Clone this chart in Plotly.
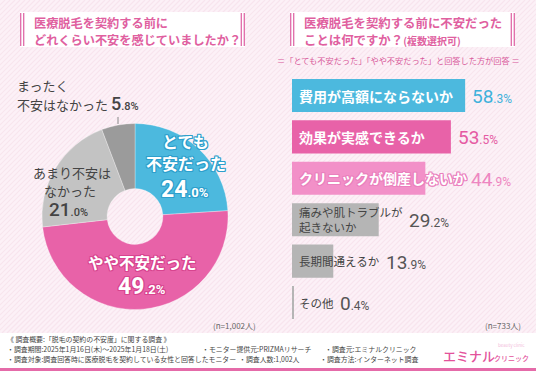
import plotly.graph_objects as go

W, H = 536, 371
JP = "Noto Sans CJK JP"
NUM = "Roboto"

# ---------------- data ----------------
pie_labels = ["とても不安だった", "やや不安だった", "あまり不安はなかった", "まったく不安はなかった"]
pie_values = [24.0, 49.2, 21.0, 5.8]
pie_colors = ["#4cb9de", "#e862a8", "#c3c3c3", "#9b9b9b"]

bar_labels = ["費用が高額にならないか", "効果が実感できるか", "クリニックが倒産しないか",
              "痛みや肌トラブルが<br>起きないか", "長期間通えるか", "その他"]
bar_values = [58.3, 53.5, 44.9, 29.2, 13.9, 0.4]
bar_colors = ["#4cb9de", "#e862a8", "#f290c8", "#b5b5b5", "#b5b5b5", "#b5b5b5"]
value_colors = ["#3fb1db", "#e55aa3", "#ee86c1", "#555555", "#555555", "#555555"]

left_title = ["医療脱毛を契約する前に", "どれくらい不安を感じていましたか？"]
right_title = ["医療脱毛を契約する前に不安だった", "ことは何ですか？"]
right_title_note = "(複数選択可)"
right_subtitle = "＝「とても不安だった」「やや不安だった」と回答した方が回答 ＝"
n_left = "(n=1,002人)"
n_right = "(n=733人)"
footer = [
    "《 調査概要:「脱毛の契約の不安度」に関する調査 》",
    "・調査期間:2025年1月16日(木)～2025年1月18日(土)",
    "・モニター提供元:PRIZMAリサーチ",
    "・調査元:エミナルクリニック",
    "・調査対象:調査回答時に医療脱毛を契約している女性と回答したモニター",
    "・調査人数:1,002人",
    "・調査方法:インターネット調査",
]

PINK = "#e0609f"


def px(x):
    return x / W


def py(y):
    return 1 - y / H


def fmt(v, big, small):
    s = f"{v:.1f}"
    i, d = s.split(".")
    return (f"<span style='font-size:{big}px'>{i}</span>"
            f"<span style='font-size:{small}px'>.{d}%</span>")


def outline(c):
    return (f"-1px -1px 0 {c}, 1px -1px 0 {c}, -1px 1px 0 {c}, 1px 1px 0 {c}, "
            f"0 1px 0 {c}, 0 -1px 0 {c}, 1px 0 0 {c}, -1px 0 0 {c}")


annotations = []
shapes = []


def ann(x, y, text, size, color, xanchor="left", weight=400, family=JP, shadow=None, yanchor="middle"):
    f = dict(family=family, size=size, color=color, weight=weight)
    if shadow:
        f["shadow"] = shadow
    annotations.append(dict(x=px(x), y=py(y), xref="paper", yref="paper", text=text,
                            showarrow=False, xanchor=xanchor, yanchor=yanchor, font=f,
                            align="left"))


# ---------------- background ----------------
stripe = []
for c in range(0, W + 340, 5):
    stripe.append(f"M{px(c):.5f},{py(0):.5f} L{px(c - 333):.5f},{py(333):.5f}")
shapes.append(dict(type="path", xref="paper", yref="paper", path=" ".join(stripe),
                   line=dict(color="#f8e4ee", width=1.2), layer="below"))
shapes.append(dict(type="rect", xref="paper", yref="paper", x0=0, x1=1, y0=py(371), y1=py(333),
                   fillcolor="white", line=dict(width=0), layer="below"))
shapes.append(dict(type="rect", xref="paper", yref="paper", x0=0, x1=1, y0=py(371), y1=py(368),
                   fillcolor="#e56ba9", line=dict(width=0), layer="below"))

# title boxes
for x0, x1 in [(20, 245), (290, 515)]:
    shapes.append(dict(type="rect", xref="paper", yref="paper", x0=px(x0), x1=px(x1),
                       y0=py(47), y1=py(12), fillcolor="white", line=dict(width=0), layer="below"))
    for xl in [x0 + 0.7, x0 + 3.7, x1 - 3.7, x1 - 0.7]:
        shapes.append(dict(type="line", xref="paper", yref="paper", x0=px(xl), x1=px(xl),
                           y0=py(46), y1=py(13), line=dict(color="#e06aa8", width=1.3)))

TS = 12.2
ann(32, 23.5, left_title[0], TS, PINK, weight=700)
ann(32, 39.5, left_title[1], TS, PINK, weight=700)
ann(302, 23.5, right_title[0], 12.4, PINK, weight=700)
ann(302, 39.5, right_title[1] + f"<span style='font-size:10px'>{right_title_note}</span>",
    12.4, PINK, weight=700)
ann(398, 60, right_subtitle, 8.2, "#d8589a", xanchor="center")

# ---------------- pie ----------------
pie = go.Pie(values=pie_values, labels=pie_labels, sort=False, direction="clockwise",
             rotation=0, hole=0.30, textinfo="none", hoverinfo="label+percent",
             marker=dict(colors=pie_colors, line=dict(color="rgba(255,255,255,0.6)", width=0.5)),
             domain=dict(x=[px(42), px(228)], y=[py(310), py(123)]), showlegend=False)

# pie labels
BLUE_O = "#2d9fcc"
PINK_O = "#d8448f"
ann(185, 141, "とても", 16, "white", "center", 700, shadow=outline(BLUE_O))
ann(186, 163, "不安だった", 16, "white", "center", 700, shadow=outline(BLUE_O))
ann(185, 189, fmt(pie_values[0], 23, 13), 23, "white", "center", 700, NUM, shadow=outline(BLUE_O))
ann(142, 262, "やや不安だった", 15.5, "white", "center", 700, shadow=outline(PINK_O))
ann(142, 286, fmt(pie_values[1], 23, 13), 23, "white", "center", 700, NUM, shadow=outline(PINK_O))
ann(72, 172, "あまり不安は", 13, "#444444", "center", 400)
ann(70, 190, "なかった", 13, "#444444", "center", 400)
ann(68, 209, fmt(pie_values[2], 19, 11), 19, "#444444", "center", 500, NUM)
ann(15, 85, "まったく", 13, "#444444", "left", 400)
ann(15, 103, "不安はなかった " + f"<span style='font-family:{NUM};font-weight:500'>" +
    fmt(pie_values[3], 18, 11) + "</span>", 13, "#444444", "left", 400)
shapes.append(dict(type="line", xref="paper", yref="paper", x0=px(118), x1=px(118),
                   y0=py(117), y1=py(124), line=dict(color="#888888", width=1)))

ann(258, 325, n_left, 8, "#666666", "right")
ann(523, 325, n_right, 8, "#666666", "right")

# ---------------- bars ----------------
X0_PX = 292
X_MAX = 80.0
X1_PX = 529.6
PPU = (X1_PX - X0_PX) / X_MAX

bar = go.Bar(x=bar_values, y=bar_labels, orientation="h", width=0.8,
             marker=dict(color=bar_colors, line=dict(width=0)),
             xaxis="x", yaxis="y", showlegend=False, hoverinfo="x+y")

for i, (lab, v) in enumerate(zip(bar_labels, bar_values)):
    bold = i < 3
    size = 14 if bold else 11.5
    lines = lab.split("<br>")
    lab_w = max(len(l) for l in lines) * (13.8 if bold else 11.5)
    f = dict(family=JP, size=size, color="white" if bold else "#444444", weight=700 if bold else 400)
    if i == 2:
        f["shadow"] = outline("#ea80bd")
    annotations.append(dict(x=0, y=lab, xref="x", yref="y", text=lab, showarrow=False,
                            xanchor="left", yanchor="middle", xshift=5, font=f, align="left"))
    end_px = max(X0_PX + v * PPU + 5, X0_PX + 5 + lab_w + 6)
    annotations.append(dict(x=(end_px - X0_PX) / PPU, y=lab, xref="x", yref="y",
                            text=fmt(v, 19, 12), showarrow=False, xanchor="left",
                            yanchor="middle", yshift=-1,
                            font=dict(family=NUM, size=19, color=value_colors[i], weight=400)))

# ---------------- footer ----------------
FC = "#444444"
FS = 6.9
ann(5, 339, footer[0], FS, FC)
ann(5, 349, footer[1], FS, FC)
ann(200, 349, footer[2], FS, FC)
ann(323, 349, footer[3], FS, FC)
ann(5, 359, footer[4], FS, FC)
ann(237, 359, footer[5], FS, FC)
ann(318, 359, footer[6], FS, FC)
ann(441, 355, "エミナル", 13, "#e3529b", weight=500)
ann(492, 358, "クリニック", 7, "#e3529b", weight=500)
ann(496, 345, "beauty clinic", 4.5, "#f3c0dc")

fig = go.Figure([pie, bar])
fig.update_layout(
    width=W, height=H, autosize=False,
    margin=dict(l=0, r=0, t=0, b=0),
    paper_bgcolor="#fcf1f7", plot_bgcolor="rgba(0,0,0,0)",
    xaxis=dict(domain=[px(X0_PX), px(X1_PX)], range=[0, X_MAX], visible=False, fixedrange=True),
    yaxis=dict(domain=[py(323.2), py(74.8)], categoryorder="array", categoryarray=bar_labels,
               autorange="reversed", visible=False, fixedrange=True),
    bargap=0.2,
    shapes=shapes, annotations=annotations,
    font=dict(family=JP),
)
fig.write_html("out.html", config=dict(displayModeBar=False),
               post_script="document.body.style.margin='0';document.body.style.overflow='hidden';")
